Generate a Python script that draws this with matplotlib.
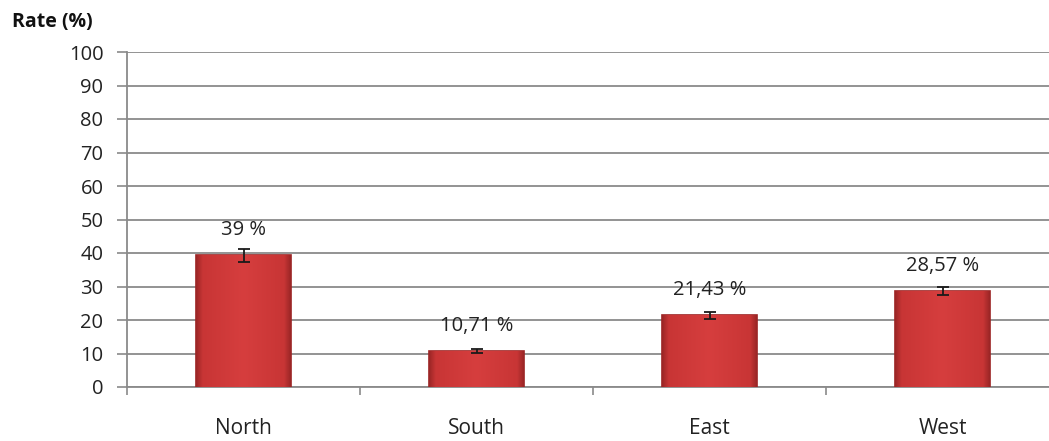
import numpy as np
import matplotlib.pyplot as plt
from matplotlib.colors import LinearSegmentedColormap

# data
regions = ["North", "South", "East", "West"]
rates = [39.29, 10.71, 21.43, 28.57]
rate_labels = ["39 %", "10,71 %", "21,43 %", "28,57 %"]
errors = [1.9, 0.5, 1.1, 1.25]
y_ticks = list(range(0, 101, 10))

plt.rcParams['font.family'] = ['Open Sans', 'DejaVu Sans']

W, H = 1049, 441
fig = plt.figure(figsize=(W / 100, H / 100), dpi=100)
# plot area runs a little past the right edge of the picture
ax = fig.add_axes([127 / W, 1 - 387 / H, (1059 - 127) / W, (387 - 52) / H])

x = np.arange(len(regions))
bars = ax.bar(x, rates, width=0.405, color='#d03a3a', edgecolor='#9c2424',
              linewidth=1.2, zorder=3)

# soft bevel shading on each bar: dark only near the edges
shade = LinearSegmentedColormap.from_list(
    'shade', [(0, '#9a2626'), (0.07, '#c83535'), (0.5, '#d63e3e'),
              (0.93, '#c83535'), (1, '#9a2626')])
grad = np.linspace(0, 1, 256).reshape(1, -1)
for b in bars:
    x0, y0 = b.get_x(), b.get_y()
    im = ax.imshow(grad, cmap=shade, aspect='auto', zorder=3.5,
                   extent=[x0, x0 + b.get_width(), y0, y0 + b.get_height()])
    im.set_clip_path(b)

ax.errorbar(x, rates, yerr=errors, fmt='none', ecolor='#1a1a1a',
            elinewidth=1.3, capsize=4, capthick=1.3, zorder=5)

for xi, r, lab in zip(x, rates, rate_labels):
    ax.annotate(lab, (xi, r), xytext=(0, 11), textcoords='offset points',
                ha='center', va='bottom', fontsize=14.5, color='#222222')

ax.set_xlim(-0.5, len(regions) - 0.5)
ax.set_ylim(0, 100)
ax.set_yticks(y_ticks)
ax.set_yticklabels([str(t) for t in y_ticks], fontsize=14.5, color='#222222')
ax.yaxis.grid(True, color='#8a8a8a', linewidth=1.3, zorder=0)
ax.set_axisbelow(True)

# category labels between boundary ticks
ax.set_xticks(np.arange(len(regions) + 1) - 0.5)
ax.set_xticklabels([])
ax.set_xticks(x, minor=True)
ax.set_xticklabels(regions, minor=True, fontsize=15, color='#222222')
ax.tick_params(axis='x', which='minor', length=0, pad=22)
ax.tick_params(axis='x', which='major', length=6, color='#8a8a8a', width=1.2)
ax.tick_params(axis='y', length=7, color='#8a8a8a', width=1.2, pad=10)

for side in ['top', 'right']:
    ax.spines[side].set_visible(False)
for side in ['left', 'bottom']:
    ax.spines[side].set_color('#8a8a8a')
    ax.spines[side].set_linewidth(1.3)

fig.text(12 / W, 1 - 22 / H, "Rate (%)", fontsize=14, fontweight='bold',
         ha='left', va='center', color='#111111')

fig.savefig('out.png', dpi=100)
